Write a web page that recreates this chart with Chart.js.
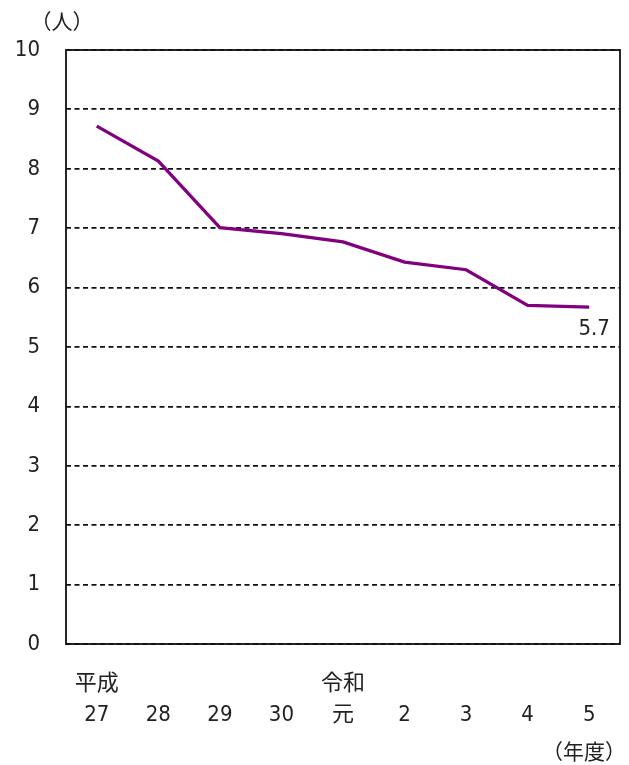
<!DOCTYPE html>
<html><head><meta charset="utf-8">
<script src="https://cdn.jsdelivr.net/npm/chart.js@4.4.0/dist/chart.umd.min.js"></script>
<style>html,body{margin:0;padding:0;background:#fff;}#wrap{width:629px;height:765px;}</style>
</head><body><div id="wrap"><canvas id="c" width="629" height="765"></canvas></div>
<script>
const eraLabels = ['平成', '', '', '', '令和', '', '', '', ''];
const yearLabels = ['27', '28', '29', '30', '元', '2', '3', '4', '5'];
const values = [8.72, 8.13, 7.01, 6.91, 6.77, 6.43, 6.3, 5.7, 5.67];
const lastLabel = '5.7';
const yTicks = [0, 1, 2, 3, 4, 5, 6, 7, 8, 9, 10];
const yUnit = '（人）';
const xUnit = '（年度）';

const FONT = "'DejaVu Sans Condensed', 'Noto Sans CJK JP', sans-serif";
const CJK = "'Noto Sans CJK JP', sans-serif";
const labels = eraLabels.map((e, i) => [e, yearLabels[i]]);

const extras = {
  id: 'extras',
  afterDraw(chart) {
    const ctx = chart.ctx, a = chart.chartArea;
    ctx.save();
    ctx.strokeStyle = '#111';
    ctx.lineWidth = 1.8;
    ctx.setLineDash([]);
    ctx.strokeRect(a.left, a.top, a.right - a.left, a.bottom - a.top);
    ctx.fillStyle = '#222';
    ctx.textAlign = 'center';
    ctx.textBaseline = 'middle';
    ctx.font = "21px " + CJK;
    ctx.fillText(yUnit, 62, 21);
    ctx.fillText(xUnit, 584, 751);
    const meta = chart.getDatasetMeta(0);
    const p = meta.data[meta.data.length - 1];
    ctx.font = "22px " + FONT;
    ctx.fillText(lastLabel, p.x + 5, p.y + 22);
    ctx.restore();
  }
};

new Chart(document.getElementById('c'), {
  type: 'line',
  data: {
    labels: labels,
    datasets: [{
      data: values,
      borderColor: '#800080',
      borderWidth: 3.2,
      pointRadius: 0,
      tension: 0,
      fill: false
    }]
  },
  options: {
    responsive: false,
    animation: false,
    devicePixelRatio: 1,
    layout: { padding: { top: 50, right: 9, left: 0, bottom: 0 } },
    plugins: { legend: { display: false }, tooltip: { enabled: false } },
    scales: {
      x: {
        offset: true,
        grid: { display: false, drawTicks: false },
        border: { display: false },
        ticks: {
          color: '#222',
          font: { family: FONT, size: 22, lineHeight: 1.4 },
          padding: 25,
          maxRotation: 0,
          autoSkip: false
        },
        afterFit(s) { s.height = 121; }
      },
      y: {
        min: 0, max: 10,
        afterBuildTicks(s) { s.ticks = yTicks.map(v => ({ value: v })); },
        grid: { color: '#111', lineWidth: 1.8, drawTicks: false },
        border: { display: false, dash: [5, 3.5] },
        ticks: {
          color: '#222',
          font: { family: FONT, size: 22 },
          padding: 26
        },
        afterFit(s) { s.width = 66; }
      }
    }
  },
  plugins: [extras]
});
</script>
</body></html>
